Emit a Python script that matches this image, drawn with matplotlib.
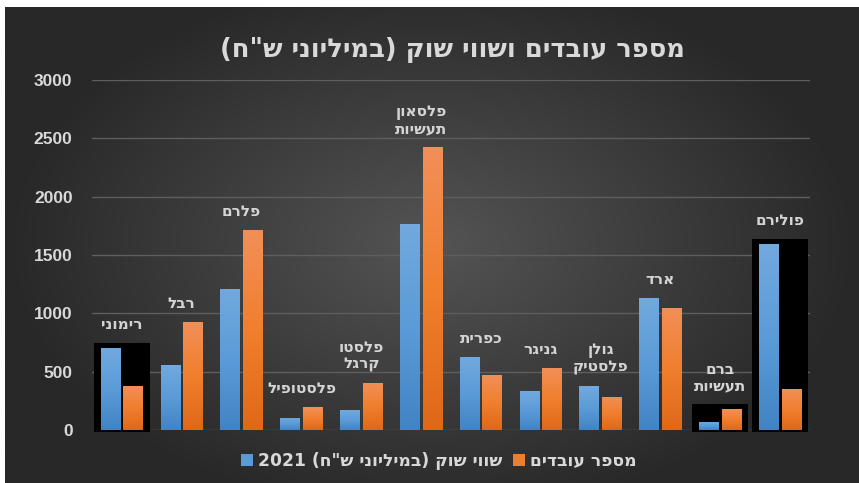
import re
import numpy as np
import matplotlib
matplotlib.use("Agg")
import matplotlib.pyplot as plt
from matplotlib.colors import LinearSegmentedColormap
from matplotlib.patches import Rectangle

# ---------------- data ----------------
companies = ['רימוני', 'רבל', 'פלרם', 'פלסטופיל', 'פלסטו\nקרגל', 'פלסאון\nתעשיות',
             'כפרית', 'גניגר', 'גולן\nפלסטיק', 'ארד', 'ברם\nתעשיות', 'פולירם']
market_value = [705, 557, 1209, 103, 171, 1766, 626, 334, 377, 1131, 69, 1594]
employees = [380, 926, 1714, 197, 403, 2425, 471, 531, 283, 1046, 180, 351]
highlighted = ['רימוני', 'ברם\nתעשיות', 'פולירם']
series_names = ['שווי שוק (במיליוני ש"ח) 2021', 'מספר עובדים']
title = 'מספר עובדים ושווי שוק (במיליוני ש"ח)'
yticks = [0, 500, 1000, 1500, 2000, 2500, 3000]

# ---------------- helpers ----------------
def rtl_line(s):
    parts = re.findall(r'\d+|\D+', s)
    out = []
    for p in reversed(parts):
        if p.isdigit():
            out.append(p)
        else:
            out.append(p[::-1].translate(str.maketrans('()', ')(')))
    return ''.join(out)

def rtl(s):
    return '\n'.join(rtl_line(l) for l in s.split('\n'))

NUMFONT = ['Liberation Sans', 'DejaVu Sans']
HEBFONT = ['DejaVu Sans']
plt.rcParams['font.family'] = NUMFONT
TXT = '#d9d9d9'

W, H = 859, 483
fig = plt.figure(figsize=(W / 100, H / 100), dpi=100)
fig.patch.set_facecolor('white')

# background panel with radial gradient
bg = fig.add_axes([5 / W, 0, (W - 5) / W, (H - 7) / H])
bg.set_axis_off()
yy, xx = np.mgrid[-1:1:300j, -1:1:500j]
r = np.sqrt((xx / 1.0) ** 2 + (yy / 1.15) ** 2)
r = np.clip(r, 0, 1)
bgcmap = LinearSegmentedColormap.from_list('bg', ['#545454', '#3e3e3e', '#282828'])
bg.imshow(r, cmap=bgcmap, aspect='auto', extent=[0, 1, 0, 1], vmin=0, vmax=1)
bg.set_xlim(0, 1)
bg.set_ylim(0, 1)

# main axes
ax = fig.add_axes([92 / W, (H - 430) / H, (810 - 92) / W, (430 - 80) / H])
ax.set_facecolor('none')
for s in ax.spines.values():
    s.set_visible(False)

x = np.arange(len(companies))
bw = 0.33
off = 0.19

# highlight boxes
for i, name in enumerate(companies):
    if name in highlighted:
        top = max(market_value[i], employees[i]) + 40
        ax.add_patch(Rectangle((i - 0.47, -15), 0.94, top + 15, facecolor='black',
                               edgecolor='none', zorder=1, clip_on=False))

blue_cmap = LinearSegmentedColormap.from_list('b', ['#4283c4', '#5b9bd8', '#72a9de'])
orange_cmap = LinearSegmentedColormap.from_list('o', ['#df6818', '#f07f2e', '#f28f58'])

b1 = ax.bar(x - off, market_value, bw, color='#5b9bd5', zorder=2)
b2 = ax.bar(x + off, employees, bw, color='#ed7d31', zorder=2)

grad = np.linspace(1, 0, 256).reshape(-1, 1)
for cont, cm in ((b1, blue_cmap), (b2, orange_cmap)):
    for p in cont:
        x0, y0 = p.get_x(), p.get_y()
        w, h = p.get_width(), p.get_height()
        im = ax.imshow(grad, cmap=cm, aspect='auto', extent=[x0, x0 + w, y0, y0 + h],
                       zorder=3, vmin=0, vmax=1)
        im.set_clip_path(p)

# category labels
for i, name in enumerate(companies):
    top = max(market_value[i], employees[i])
    if name in highlighted:
        top += 40
    ax.annotate(rtl(name), (i, top), xytext=(0, 8), textcoords='offset points',
                ha='center', va='bottom', fontsize=11, fontweight='bold',
                family=HEBFONT, color='#d4d4d4', linespacing=1.12, zorder=5)

ax.set_xlim(-0.5, len(companies) - 0.5)
ax.set_ylim(0, 3000)
ax.set_yticks(yticks)
ax.set_yticklabels([str(v) for v in yticks])
ax.set_xticks([])
ax.tick_params(axis='y', length=0, pad=14, labelsize=12.5, labelcolor=TXT)
for lab in ax.get_yticklabels():
    lab.set_fontweight('bold')
ax.yaxis.grid(True, color='#5e5e5e', linewidth=1.0, zorder=0)
ax.set_axisbelow(True)

fig.text(452 / W, 1 - 50 / H, rtl(title), ha='center', va='center',
         fontsize=18.5, fontweight='bold', color=TXT, family=HEBFONT)

h1 = Rectangle((0, 0), 1, 1, facecolor='#5b9bd5')
h2 = Rectangle((0, 0), 1, 1, facecolor='#ed7d31')
leg = fig.legend([h1, h2], [rtl(s) for s in series_names], loc='center',
                 bbox_to_anchor=(439 / W, 1 - 461 / H), ncol=2, frameon=False,
                 handlelength=0.7, handleheight=0.7, handletextpad=0.3,
                 columnspacing=0.6, prop={'weight': 'bold', 'size': 12.3,
                                          'family': HEBFONT})
for t in leg.get_texts():
    t.set_color(TXT)

fig.savefig('out.png', dpi=100, facecolor='white')
